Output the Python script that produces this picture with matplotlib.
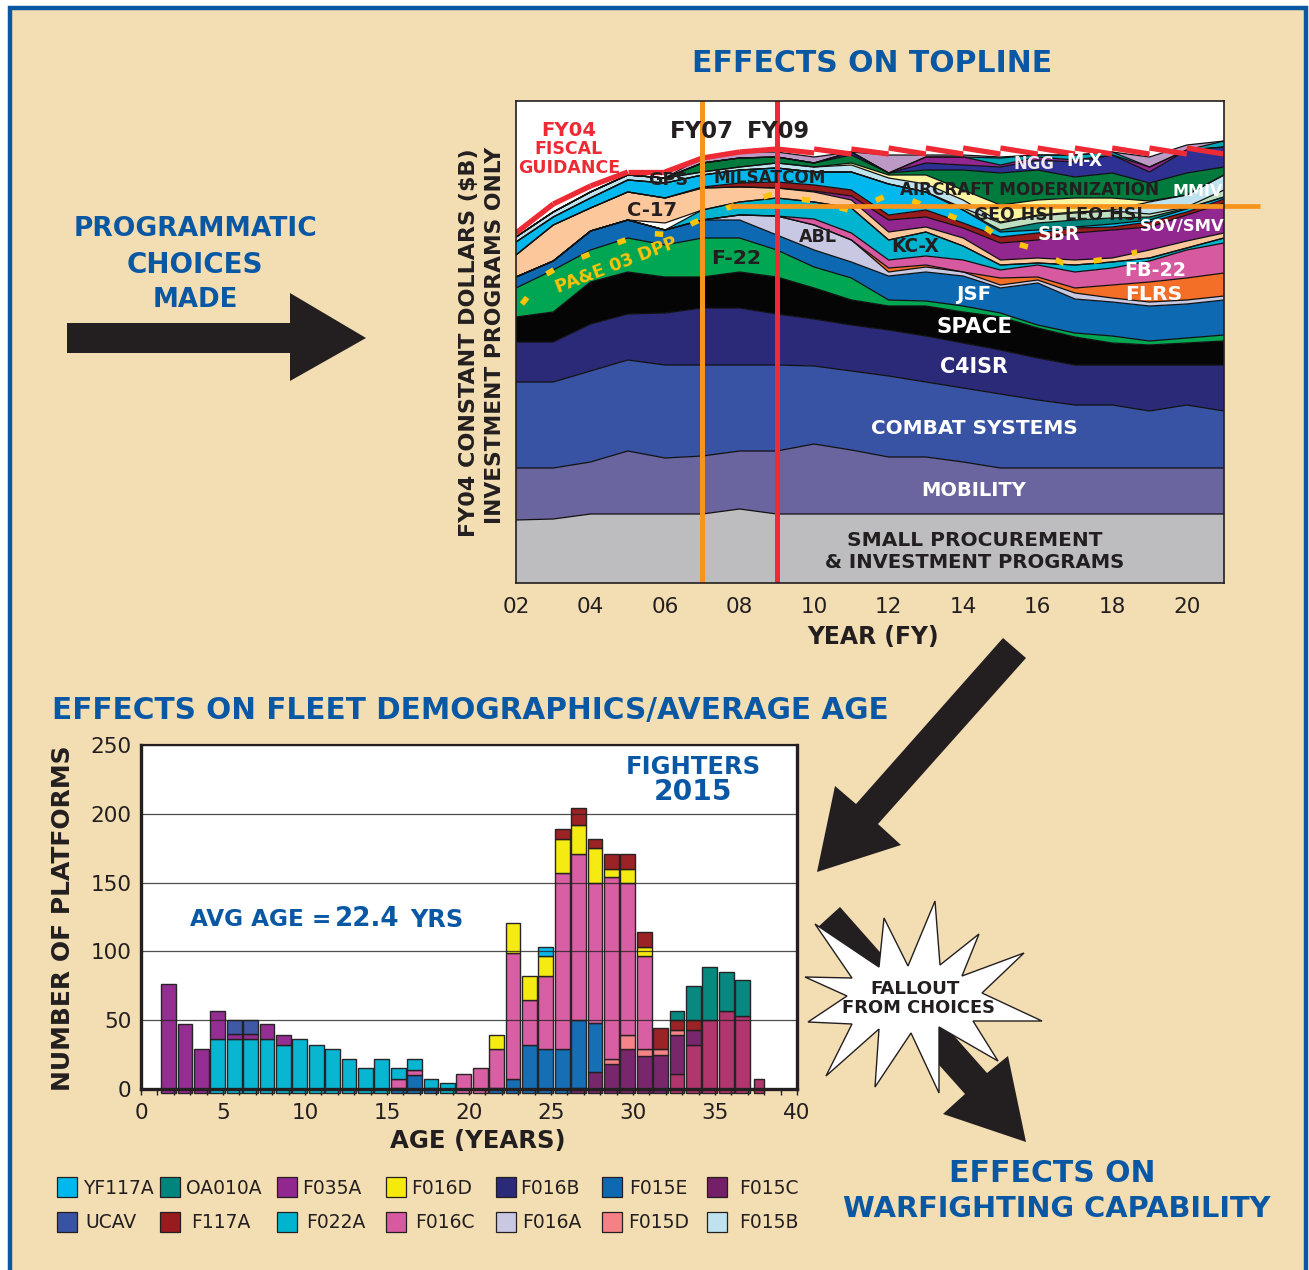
import numpy as np
import matplotlib
matplotlib.use('Agg')
import matplotlib.pyplot as plt
from matplotlib.patches import Polygon, Rectangle

W, H = 1309, 1270
BG = '#f3deb3'
BLUE = '#0a57a4'
INK = '#231f20'

# --- top chart: upper edge of each stacked band, one value per fiscal year
years = np.arange(2, 22)
small = [63,64,69,69,69,69,74,69,69,69,69,69,69,69,69,69,69,69,69,69]
mobility = [115,115,121,132,125,127,132,132,139,133,126,126,121,115,115,115,115,115,115,115]
combat = [201,201,212,223,218,218,218,218,217,212,207,201,195,189,183,178,178,172,178,172]
c4isr = [241,241,259,269,270,275,275,269,264,258,253,247,240,233,225,218,218,218,218,218]
space = [266,271,301,311,306,306,311,306,295,283,277,277,271,266,255,246,240,238,240,242]
f22 = [295,313,333,345,338,345,345,333,316,305,283,282,277,270,258,250,247,242,245,248]
jsf = [306,322,352,363,353,363,363,348,333,321,307,311,307,295,300,284,281,277,279,283]
abl = [306,322,352,363,353,363,368,367,358,343,311,316,311,298,303,290,285,281,283,287]
flrs = [306,322,352,363,353,363,368,367,358,343,315,318,311,305,306,295,298,301,305,310]
fb22 = [306,322,352,363,353,363,368,367,364,350,323,327,323,313,318,311,315,322,333,340]
kcx = [306,322,352,363,353,373,381,385,381,375,343,351,337,318,320,318,321,325,335,345]
gap = [306,322,352,363,360,373,381,385,381,375,343,351,337,318,320,318,321,325,335,345]
c17 = [328,358,375,391,385,395,396,395,391,383,351,356,345,323,325,323,325,333,342,350]
sov = [328,358,375,391,385,395,396,395,392,387,363,366,355,340,343,350,353,356,368,380]
sliver = [328,358,375,391,385,396,400,401,398,393,368,373,360,346,350,355,356,361,371,384]
milsatcom = [341,366,385,403,400,408,413,415,411,411,399,391,373,351,353,356,359,363,374,386]
sbr = [341,366,385,403,400,408,413,415,411,411,399,391,373,353,360,363,365,366,375,386]
leo = [341,366,385,403,400,408,413,415,411,411,399,391,375,360,367,370,372,369,376,393]
gps = [346,371,391,408,405,411,416,420,416,418,405,399,383,361,368,371,373,381,388,408]
geo = [346,371,391,408,405,411,416,420,416,420,408,408,393,378,383,385,385,382,388,408]
aircraft = [346,371,391,408,405,420,425,426,420,428,410,413,413,410,413,406,410,400,410,416]
ngg_base = [346,371,391,408,405,420,425,426,420,431,410,420,418,416,423,421,428,411,433,436]
mx_base = [346,371,391,408,405,420,425,426,420,431,410,426,426,418,426,423,428,416,433,436]
mx = [346,371,391,408,405,420,425,426,420,431,410,426,426,425,428,428,431,416,433,442]
ngg = [346,371,391,408,405,426,431,431,426,431,428,428,428,426,428,428,431,426,438,442]

bands = [small, mobility, combat, c4isr, space, f22, jsf, abl, flrs, fb22, kcx, gap, c17,
         sov, sliver, milsatcom, sbr, leo, gps, geo, aircraft, ngg_base, mx_base, mx, ngg]
band_colors = ['#bdbdbf', '#6a659f', '#3953a4', '#2a2a78', '#050505', '#00a651', '#0e69b3',
               '#c9c8e3', '#f36f27', '#d75aa0', '#00b4d0', '#ffffff', '#fcc89b', '#92278f',
               '#981b1e', '#00b7ee', '#00857c', '#bfe0c0', '#bfe3ee', '#fdf5a0', '#007a3d',
               '#2e3192', '#92278f', '#00a6b4', '#bb9ac5']

# FY04 fiscal guidance: each year's segment start and where it lands on the next year
guidance_start = [350,379,397,411,411,425,431,434,434,434,435,435,435,435,435,435,435,435,435]
guidance_end = [379,397,411,411,425,431,434,430,429,429,429,429,429,429,429,429,429,429,429]

dpp_years = [2.16,2.78,3.1,4.04,4.71,5.46,6.19,6.75,7.66,8.82,10.02,11.02,11.69,12.04,12.65,
             13.73,14.64,15.07,15.74,16.06,16.68,17.14,18.02,18.67]
dpp_values = [279,308,315,330,340,350,348,360,375,388,382,372,383,389,382,
              366,354,343,336,330,320,320,325,331]

year_ticks = [2, 4, 6, 8, 10, 12, 14, 16, 18, 20]
year_labels = ['02', '04', '06', '08', '10', '12', '14', '16', '18', '20']

# --- bottom chart: platforms by age, 1..37 years
ages = np.arange(1, 38)
older = [0]*31 + [11,32,50,57,53,7]
f015c = [0]*25 + [1,12,18,29,24,25,28,11,0,0,0,0]
f015e = [0]*14 + [1,10,1,0,0,0,1,7,32,29,29,49,36,0,0,0,0,0,0,0,0,0,0]
f015d = [0]*27 + [4,10,5,4,4,0,0,0,0,0]
f016c = [0]*14 + [6,4,0,0,11,15,28,92,33,53,128,121,102,132,111,68,0,0,0,0,0,0,0]
f022a = [0,0,0,36,36,36,36,32,36,32,29,22,15,22,8,8,6,4] + [0]*19
f035a = [76,47,29,21,4,4,11,7] + [0]*29
ucav = [0,0,0,0,10,10] + [0]*31
f016d = [0]*20 + [10,22,17,15,25,21,25,6,10,6,0,0,0,0,0,0,0]
yf117a = [0]*23 + [6] + [0]*13
f117a = [0]*24 + [7,12,7,11,11,11,15,7,7,0,0,0,0]
oa010a = [0]*31 + [7,25,39,28,26,0]

stack_series = [older, f015c, f015e, f015d, f016c, f022a, f035a, ucav, f016d, yf117a, f117a, oa010a]
stack_colors = ['#ae2f68', '#742068', '#0e69b3', '#f58085', '#d75aa0', '#00b4d0', '#92278f',
                '#3953a4', '#f5ea0a', '#00b7ee', '#981b1e', '#00857c']

legend_names = [['YF117A', 'OA010A', 'F035A', 'F016D', 'F016B', 'F015E', 'F015C'],
                ['UCAV', 'F117A', 'F022A', 'F016C', 'F016A', 'F015D', 'F015B']]
legend_colors = [['#00b7ee', '#00857c', '#92278f', '#f5ea0a', '#2a2a78', '#0e69b3', '#742068'],
                 ['#3953a4', '#981b1e', '#00b4d0', '#d75aa0', '#c9c8e3', '#f58085', '#bfe3ee']]
legend_box_x = [57, 160, 277, 386, 496, 602, 707]
legend_text_x = [[83, 186, 302, 411, 520, 629, 739], [85, 191, 306, 415, 522, 628, 739]]


def px_axes(fig, left, top, right, bottom):
    return fig.add_axes([left/W, 1-bottom/H, (right-left)/W, (bottom-top)/H])


fig = plt.figure(figsize=(W/100, H/100), dpi=100, facecolor='white')

# page background, frame and arrows sit behind the charts
back = fig.add_axes([0, 0, 1, 1], zorder=-1)
back.set_xlim(0, W)
back.set_ylim(H, 0)
back.axis('off')
back.add_patch(Rectangle((10, 8), 1296, 1280, fc=BG, ec=BLUE, lw=3.2))

# top stacked area
ax = px_axes(fig, 516, 101, 1224, 583)
ax.set_xlim(2, 21)
ax.set_ylim(0, 482)
lower = np.zeros(len(years))
for top, color in zip(bands, band_colors):
    top = np.array(top, dtype=float)
    ax.fill_between(years, lower, top, facecolor=color, edgecolor='none', zorder=2)
    ax.plot(years, top, color='#111111', lw=0.9, zorder=3)
    lower = top
for i in range(len(guidance_start)):
    ax.plot(years[i:i+2], [guidance_start[i], guidance_end[i]], color='#ee2a35', lw=3.8,
            solid_capstyle='butt', zorder=5)
ax.plot(dpp_years, dpp_values, color='#fcc30b', lw=4, dashes=(1.5, 5.5), zorder=4)
ax.axvline(7, color='#f7941d', lw=3.6, zorder=6)
ax.axvline(9, color='#ee2a35', lw=3.6, zorder=6)
ax.plot([7.74, 21.97], [377, 377], color='#f7941d', lw=3.4, clip_on=False, zorder=6,
        solid_capstyle='butt')
ax.set_xticks(year_ticks)
ax.set_xticklabels(year_labels, fontsize=15.5, color=INK)
ax.set_yticks([])
ax.tick_params(axis='x', length=0, pad=10)
for s in ax.spines.values():
    s.set_color(INK)
    s.set_linewidth(1.2)
    s.set_zorder(7)

# bottom stacked bars
bx = px_axes(fig, 141, 745, 797, 1089)
bx.set_xlim(0, 40)
bx.set_ylim(0, 250)
widths = np.full(len(ages), 0.9)
widths[-1] = 0.6
base = np.zeros(len(ages))
for vals, color in zip(stack_series, stack_colors):
    vals = np.array(vals, dtype=float)
    show = vals > 0
    # the printed bars hang a little below the axis line
    floor = np.where(base == 0, -3.0, base)
    bx.bar(ages[show] + 0.68, (base + vals - floor)[show], width=widths[show], bottom=floor[show],
           color=color, edgecolor=INK, lw=1.0, alpha=0.97, clip_on=False, zorder=2)
    base = base + vals
bx.set_yticks([0, 50, 100, 150, 200, 250])
bx.set_xticks(np.arange(0, 41, 5))
bx.set_xticks(np.arange(0, 41), minor=True)
bx.grid(axis='y', color='#222222', lw=0.9, alpha=0.8, zorder=3)
bx.set_axisbelow(False)
bx.tick_params(axis='y', length=0, labelsize=15.5, labelcolor=INK, pad=7)
bx.tick_params(axis='x', which='major', length=4, width=1, color=INK, labelsize=15.5, labelcolor=INK, pad=6)
bx.tick_params(axis='x', which='minor', length=4, width=1, color=INK)
for side, lw in [('left', 2.4), ('bottom', 2.4), ('right', 2.4), ('top', 1.6)]:
    bx.spines[side].set_linewidth(lw)
    bx.spines[side].set_color(INK)
    bx.spines[side].set_zorder(5)

# arrows and the starburst
back.add_patch(Polygon([(67, 323), (290, 323), (290, 293), (366, 338), (290, 381), (290, 353), (67, 353)],
                       fc=INK, ec='none'))
back.add_patch(Polygon([(1003, 638), (1026, 658), (878, 824), (901, 845), (817, 872), (835, 786), (856, 804)],
                       fc=INK, ec='none'))
back.add_patch(Polygon([(818, 927), (840, 907), (987, 1073), (1008, 1056), (1026, 1142), (943, 1114),
                        (965, 1094), (940, 1066)], fc=INK, ec='none', zorder=2))
back.add_patch(Polygon([(935, 901), (940, 965), (979, 934), (962, 976), (1024, 953), (982, 993), (1042, 1021),
                        (973, 1021), (998, 1061), (939, 1027), (939, 1093), (911, 1033), (875, 1087), (879, 1029),
                        (826, 1076), (852, 1024), (808, 1022), (847, 996), (805, 977), (852, 978), (815, 924),
                        (879, 967), (884, 918), (908, 966)], fc='white', ec=INK, lw=1.0, zorder=3))

# all free text goes on a clear layer on top, in picture pixels
front = fig.add_axes([0, 0, 1, 1], zorder=10)
front.set_xlim(0, W)
front.set_ylim(H, 0)
front.axis('off')
front.patch.set_alpha(0)
rend = fig.canvas.get_renderer()


def label(x, y, s, width, color=INK, rotation=0):
    # sized so the string spans the same width as in the print
    t = front.text(x, y, s, color=color, ha='center', va='center', fontsize=12,
                   fontweight='bold', zorder=10)
    t.set_fontsize(12*width/t.get_window_extent(rend).width)
    t.set_rotation(rotation)
    t.set_rotation_mode('anchor')
    return t


RED = '#ee2a35'
label(872, 64, 'EFFECTS ON TOPLINE', 359, BLUE)
label(195, 229, 'PROGRAMMATIC', 243, BLUE)
label(195, 265, 'CHOICES', 137, BLUE)
label(195, 300, 'MADE', 85, BLUE)
label(469, 343, 'FY04 CONSTANT DOLLARS ($B)', 388, rotation=90)
label(495, 335, 'INVESTMENT PROGRAMS ONLY', 375, rotation=90)
label(873, 637, 'YEAR (FY)', 132)
label(569, 130, 'FY04', 55, RED)
label(569, 149, 'FISCAL', 68, RED)
label(569, 168, 'GUIDANCE', 102, RED)
label(702, 132, 'FY07', 64)
label(778, 132, 'FY09', 63)
label(668, 180, 'GPS', 40)
label(770, 178, 'MILSATCOM', 113)
label(652, 210, 'C-17', 50)
label(616, 265, 'PA&E 03 DPP', 128, '#fcc30b', rotation=21)
label(736, 258, 'F-22', 50)
label(818, 237, 'ABL', 38)
label(1034, 164, 'NGG', 41, '#f0e6f0')
label(1084, 161, 'M-X', 36, 'white')
label(1030, 190, 'AIRCRAFT MODERNIZATION', 260)
label(1198, 192, 'MMIV', 50, 'white')
label(1014, 215, 'GEO HSI', 80)
label(1104, 215, 'LEO HSI', 78)
label(1059, 234, 'SBR', 42, 'white')
label(1182, 227, 'SOV/SMV', 85, 'white')
label(915, 247, 'KC-X', 48)
label(1155, 270, 'FB-22', 62, 'white')
label(1154, 294, 'FLRS', 57, 'white')
label(974, 295, 'JSF', 35, 'white')
label(974, 327, 'SPACE', 76, 'white')
label(974, 367, 'C4ISR', 68, 'white')
label(974, 428, 'COMBAT SYSTEMS', 206, 'white')
label(974, 491, 'MOBILITY', 105, 'white')
label(975, 541, 'SMALL PROCUREMENT', 255)
label(975, 563, '& INVESTMENT PROGRAMS', 300)

label(470, 710, 'EFFECTS ON FLEET DEMOGRAPHICS/AVERAGE AGE', 835, BLUE)
label(63, 918, 'NUMBER OF PLATFORMS', 345, rotation=90)
label(478, 1141, 'AGE (YEARS)', 175)
label(693, 767, 'FIGHTERS', 135, BLUE)
label(693, 792, '2015', 78, BLUE)
label(261, 920, 'AVG AGE =', 141, BLUE)
label(367, 919, '22.4', 65, BLUE)
label(437, 920, 'YRS', 53, BLUE)
label(915, 989, 'FALLOUT', 90)
label(918, 1008, 'FROM CHOICES', 153)
label(1052, 1173, 'EFFECTS ON', 206, BLUE)
label(1057, 1209, 'WARFIGHTING CAPABILITY', 428, BLUE)

for row, (box_y, text_y) in enumerate([(1177, 1188), (1212, 1222)]):
    for col in range(7):
        front.add_patch(Rectangle((legend_box_x[col], box_y), 20, 20, fc=legend_colors[row][col],
                                  ec=INK, lw=0.9))
        front.text(legend_text_x[row][col], text_y, legend_names[row][col], color=INK,
                   ha='left', va='center', fontsize=13.5)

fig.savefig('out.png', dpi=100)
